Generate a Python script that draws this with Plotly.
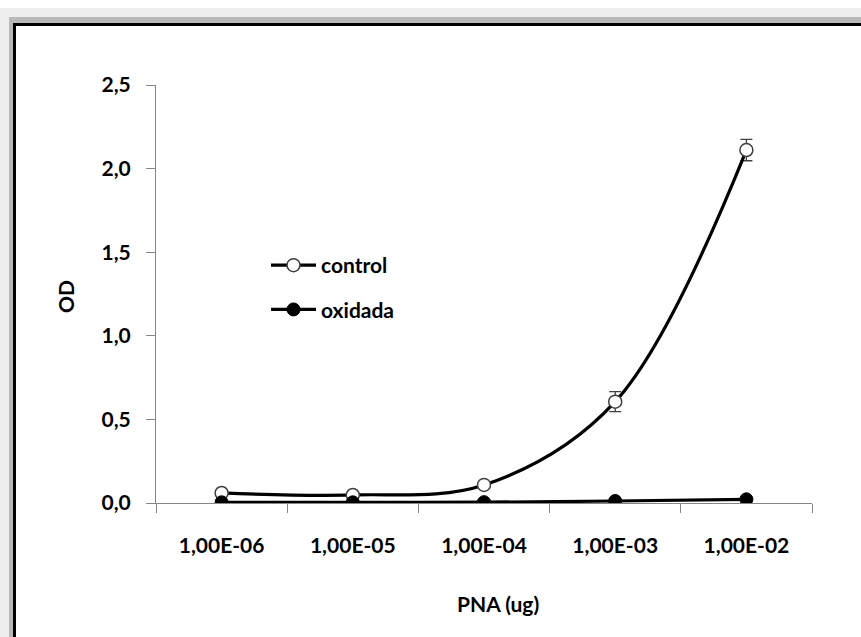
import plotly.graph_objects as go

# ---- data ----
categories = ["1,00E-06", "1,00E-05", "1,00E-04", "1,00E-03", "1,00E-02"]
control = [0.060, 0.048, 0.108, 0.606, 2.111]
control_err = [0.005, 0.005, 0.010, 0.060, 0.064]
oxidada = [0.004, 0.004, 0.005, 0.012, 0.022]
y_ticks = [0, 0.5, 1.0, 1.5, 2.0, 2.5]
y_tick_labels = ["0,0", "0,5", "1,0", "1,5", "2,0", "2,5"]

W, H = 861, 637
L, R, T, B = 156, 49, 85, 134
PW, PH = W - L - R, H - T - B


def px(x):
    return (x - L) / PW


def py(y):
    return (H - B - y) / PH


FONT = "Lato"

fig = go.Figure()
fig.add_trace(go.Scatter(
    x=categories, y=control, name="control", mode="lines+markers",
    line=dict(color="black", width=3.2, shape="spline"),
    marker=dict(symbol="circle", size=13, color="white",
                line=dict(color="#404040", width=1.5)),
    error_y=dict(type="data", array=control_err, color="#404040",
                 thickness=1.3, width=6),
    legendgroup="a",
))
fig.add_trace(go.Scatter(
    x=categories, y=oxidada, name="oxidada", mode="lines+markers",
    line=dict(color="black", width=3.2, shape="spline"),
    marker=dict(symbol="circle", size=13, color="black",
                line=dict(color="black", width=1)),
    legendgroup="b",
))

frame = [
    (0, 8, "#eeeeee"),
    (9, 17, "#b8b8b8"),
    (13, 23, "#000000"),
    (16, 26, "#ffffff"),
]
shapes = []
for x0, y0, c in frame:
    shapes.append(dict(type="rect", xref="paper", yref="paper",
                       x0=px(x0), x1=px(W + 2), y0=py(H + 2), y1=py(y0),
                       fillcolor=c, line=dict(width=0), layer="below"))

fig.update_layout(
    width=W, height=H,
    margin=dict(l=L, r=R, t=T, b=B, pad=0),
    paper_bgcolor="white",
    plot_bgcolor="rgba(0,0,0,0)",
    font=dict(family=FONT, size=21, color="black", weight=700),
    shapes=shapes,
    showlegend=True,
    legend=dict(x=px(266), y=py(245), xanchor="left", yanchor="top",
                bgcolor="rgba(0,0,0,0)", font=dict(size=21, weight=700),
                tracegroupgap=14, itemwidth=45),
    xaxis=dict(
        type="category", range=[-0.5, 4.5],
        showline=True, linecolor="#868686", linewidth=1,
        ticks="outside", ticklen=9, tickcolor="#868686", tickwidth=1,
        tickson="boundaries", showgrid=False, zeroline=False,
        ticklabelstandoff=24,
    ),
    yaxis=dict(
        range=[0, 2.5], tickvals=y_ticks, ticktext=y_tick_labels,
        showline=True, linecolor="#868686", linewidth=1,
        ticks="outside", ticklen=9, tickcolor="#868686", tickwidth=1,
        showgrid=False, zeroline=False, ticklabelstandoff=11,
    ),
    annotations=[
        dict(text="PNA (ug)", xref="paper", yref="paper", x=px(498), y=py(603),
             xanchor="center", yanchor="middle", showarrow=False,
             font=dict(size=21, weight=700)),
        dict(text="OD", xref="paper", yref="paper", x=px(65), y=py(296),
             xanchor="center", yanchor="middle", showarrow=False, textangle=-90,
             font=dict(size=21, weight=700)),
    ],
)

fig.write_html("out.html")
